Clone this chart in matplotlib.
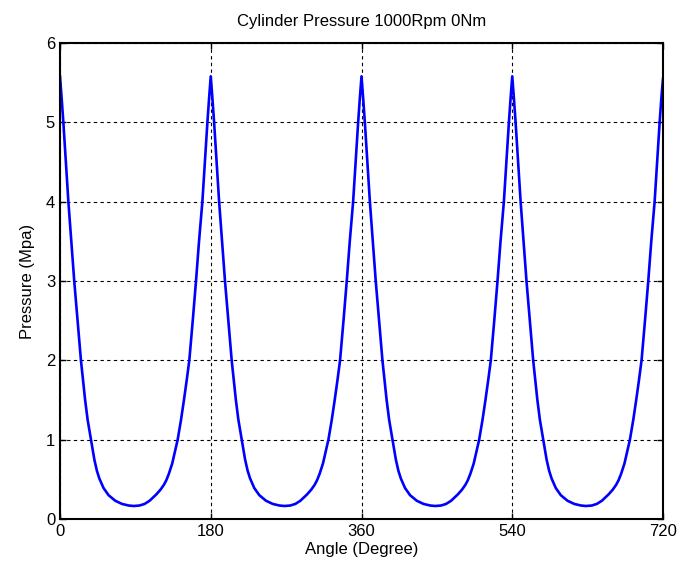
import numpy as np
import matplotlib
matplotlib.use('Agg')
from matplotlib import pyplot as plt

# one combustion cycle (angle from peak, pressure in MPa)
cycle_angle = [0, 2, 4, 7, 10, 13.5, 17, 21, 25, 30, 33, 37, 41, 44, 47, 52, 58, 66, 74, 82, 88,
               95, 101, 107, 115, 120, 124, 127, 130, 134, 140.5, 144.5, 148, 151.3, 154.4, 158.5, 162.4,
               166, 170, 173, 176, 178]
cycle_pres = [5.58, 5.3, 5.0, 4.5, 4.0, 3.5, 3.0, 2.5, 2.0, 1.5, 1.25, 1.0, 0.75, 0.61, 0.51, 0.39, 0.3, 0.23, 0.19, 0.17, 0.164,
              0.17, 0.19, 0.23, 0.31, 0.37, 0.43, 0.49, 0.57, 0.7, 1.0, 1.25, 1.5, 1.75, 2.0, 2.5, 3.0,
              3.5, 4.0, 4.5, 5.0, 5.3]
n_cycles = 4
last_point = (720, 5.55)

xticks = [0, 180, 360, 540, 720]
yticks = [0, 1, 2, 3, 4, 5, 6]

angle = []
pres = []
for k in range(n_cycles):
    angle += [a + 180 * k for a in cycle_angle]
    pres += cycle_pres
angle.append(last_point[0])
pres.append(last_point[1])

plt.rcParams['font.family'] = ['Liberation Sans', 'DejaVu Sans']

fig = plt.figure(figsize=(6.84, 5.76), dpi=100)
ax = fig.add_axes([60/684, 57/576, 603/684, 476/576])
ax.plot(angle, pres, color='#0000ff', lw=1.9)

ax.set_xlim(0, 720)
ax.set_ylim(0, 6)
ax.set_xticks(xticks)
ax.set_yticks(yticks)
ax.grid(True, color='black', linestyle=(0, (3, 3)), lw=0.8)
ax.tick_params(direction='in', top=True, right=True, length=4, width=1, labelsize=12)
for s in ax.spines.values():
    s.set_linewidth(1.5)

ax.set_title('Cylinder Pressure 1000Rpm 0Nm', fontsize=12, pad=12)
ax.set_xlabel('Angle (Degree)', fontsize=12, labelpad=2)
ax.set_ylabel('Pressure (Mpa)', fontsize=12, labelpad=8)

plt.savefig('out.png', dpi=100)
